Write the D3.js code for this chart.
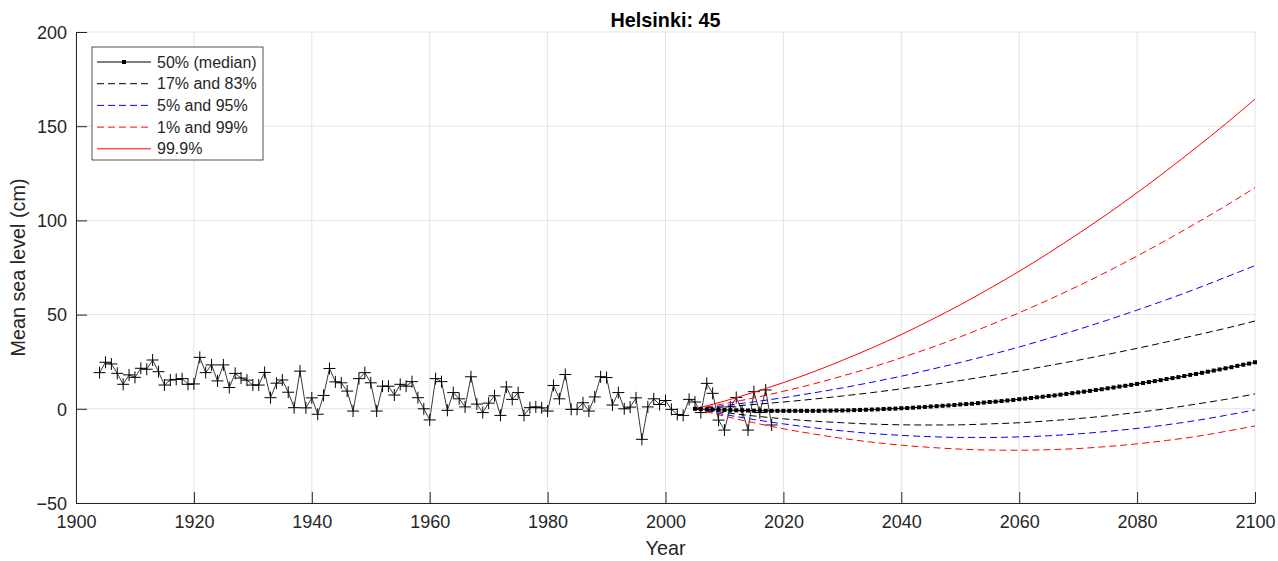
<!DOCTYPE html>
<html>
<head>
<meta charset="utf-8">
<script src="https://cdn.jsdelivr.net/npm/d3@7/dist/d3.min.js"></script>
<style>
  body { margin: 0; background: white; }
  svg { font-family: "Liberation Sans", Arial, Helvetica, sans-serif; }
  .grid line { stroke: #e3e3e3; stroke-width: 1; }
</style>
</head>
<body>
<script>
// observed annual means (cm), 1904 - 2018
var obsStart = 1904
var observed = [19.2, 24.7, 23.8, 18.8, 13, 18, 16.7, 21.5, 21, 25.9,
    19.7, 12.6, 15.3, 15.6, 16, 13, 13.2, 27.3, 19.2, 23.3,
    14.8, 23.3, 11.3, 18.8, 16.3, 15.2, 12.6, 12.6, 19.3, 5.9,
    13.6, 15.3, 8.8, 0.6, 20.0, 0.5, 5.8, -2.9, 7.1, 21.4,
    14.3, 13.8, 9.4, -1.2, 16, 19.2, 13.8, -1.2, 12, 12,
    7.3, 13, 12, 14.4, 5.9, 0, -5.9, 16, 14.4, -0.8,
    8.6, 5.3, 1.0, 17, 2.5, -2, 3, 6.9, -3.5, 11.6,
    5, 8.6, -3.5, 0.6, 1, 0.5, -1.2, 12.4, 5.3, 18.2,
    -0.3, -0.3, 3.2, -1.2, 6.3, 17, 16.6, 2, 8.6, 0,
    0.9, 5.8, -16.2, 1, 5.3, 2.3, 4.4, -0.3, -3, -3.5,
    5, 3.6, -2, 13.5, 8.2, -6, -11.3, 1, 6, -1,
    -11.3, 9.1, -2, 10, -8.6]

// projections every 5 years, 2005 - 2100
var projYears = [2005, 2010, 2015, 2020, 2025, 2030, 2035, 2040, 2045, 2050,
    2055, 2060, 2065, 2070, 2075, 2080, 2085, 2090, 2095, 2100]
var p999 = [0, 4.1, 8.8, 13.9, 19.5, 25.7, 32.3, 39.4, 47.1, 55.2,
    63.9, 73.0, 82.7, 92.9, 103.5, 114.7, 126.4, 138.6, 151.2, 164.4]
var p99 = [0, 2.7, 5.8, 9.3, 13.1, 17.4, 22.0, 27.1, 32.4, 38.2,
    44.4, 51.0, 57.9, 65.2, 72.9, 81.1, 89.6, 98.5, 107.7, 117.4]
var p95 = [0, 1.7, 3.7, 5.9, 8.4, 11.1, 14.1, 17.3, 20.9, 24.6,
    28.6, 32.8, 37.4, 42.1, 47.1, 52.4, 57.9, 63.7, 69.8, 76.0]
var p83 = [0, 1.0, 2.3, 3.6, 5.1, 6.8, 8.6, 10.6, 12.7, 15.0,
    17.5, 20.1, 22.9, 25.8, 28.9, 32.1, 35.5, 39.1, 42.7, 46.6]
var p17 = [0, -2.0, -3.8, -5.3, -6.5, -7.4, -8.1, -8.5, -8.6, -8.5,
    -8.0, -7.4, -6.4, -5.2, -3.7, -1.9, 0.1, 2.5, 5.0, 7.9]
var p5 = [0, -3.0, -5.7, -8.0, -10.0, -11.7, -13.1, -14.1, -14.8, -15.2,
    -15.2, -14.9, -14.3, -13.3, -12.0, -10.4, -8.5, -6.2, -3.5, -0.6]
var p1 = [0, -3.9, -7.4, -10.6, -13.3, -15.7, -17.7, -19.3, -20.5, -21.4,
    -21.9, -22.0, -21.7, -21.1, -20.0, -18.6, -16.8, -14.7, -12.0, -9.1]

// median, yearly 2005 - 2100
var medianStart = 2005
var median = [0, -0.1, -0.3, -0.4, -0.5, -0.6, -0.7, -0.8, -0.8, -0.9,
    -1.0, -1.0, -1.1, -1.1, -1.1, -1.1, -1.1, -1.1, -1.1, -1.1,
    -1.1, -1.1, -1.0, -1.0, -0.9, -0.9, -0.8, -0.7, -0.6, -0.5,
    -0.4, -0.3, -0.1, 0.0, 0.1, 0.3, 0.4, 0.6, 0.8, 1.0,
    1.2, 1.4, 1.6, 1.8, 2.0, 2.3, 2.5, 2.7, 3.0, 3.3,
    3.6, 3.8, 4.1, 4.4, 4.7, 5.1, 5.4, 5.7, 6.1, 6.4,
    6.8, 7.1, 7.5, 7.9, 8.3, 8.7, 9.1, 9.5, 10.0, 10.4,
    10.9, 11.3, 11.8, 12.2, 12.7, 13.2, 13.7, 14.2, 14.7, 15.2,
    15.8, 16.3, 16.8, 17.4, 18.0, 18.5, 19.1, 19.7, 20.3, 20.9,
    21.5, 22.1, 22.8, 23.4, 24.0, 24.7]

var xTicks = [1900, 1920, 1940, 1960, 1980, 2000, 2020, 2040, 2060, 2080, 2100]
var yTicks = [-50, 0, 50, 100, 150, 200]
var legendLabels = ["50% (median)", "17% and 83%", "5% and 95%", "1% and 99%", "99.9%"]

var axisColor = "#262626"

var margin = { left: 76, top: 32, right: 23, bottom: 58 }
var width = 1278
var height = 561
var plotW = width - margin.left - margin.right
var plotH = height - margin.top - margin.bottom

var svg = d3.select("body")
    .append("svg")
    .attr("width", width)
    .attr("height", height)

var g = svg.append("g")
    .attr("transform", "translate(" + margin.left + "," + margin.top + ")")

var x = d3.scaleLinear().domain([1900, 2100]).range([0, plotW])
var y = d3.scaleLinear().domain([-50, 200]).range([plotH, 0])

// grid
var grid = g.append("g").attr("class", "grid")
grid.selectAll(".gx").data(xTicks).enter().append("line")
    .attr("x1", function (d) { return x(d) }).attr("x2", function (d) { return x(d) })
    .attr("y1", 0).attr("y2", plotH)
grid.selectAll(".gy").data(yTicks).enter().append("line")
    .attr("y1", function (d) { return y(d) }).attr("y2", function (d) { return y(d) })
    .attr("x1", 0).attr("x2", plotW)

var clip = g.append("defs").append("clipPath").attr("id", "plotclip")
clip.append("rect").attr("x", -2).attr("y", -2).attr("width", plotW + 4).attr("height", plotH + 4)

var plot = g.append("g").attr("clip-path", "url(#plotclip)")

var projLine = d3.line()
    .x(function (d) { return x(d[0]) })
    .y(function (d) { return y(d[1]) })
    .curve(d3.curveMonotoneX)

var bands = [
    { values: p17, color: "#000", dash: "7,4" },
    { values: p83, color: "#000", dash: "7,4" },
    { values: p5, color: "#0000ff", dash: "7,4" },
    { values: p95, color: "#0000ff", dash: "7,4" },
    { values: p1, color: "#ff0000", dash: "7,4" },
    { values: p99, color: "#ff0000", dash: "7,4" },
    { values: p999, color: "#ff0000", dash: null }
]

// observed series
var obsData = observed.map(function (v, i) { return [obsStart + i, v] })

plot.append("path")
    .datum(obsData)
    .attr("fill", "none")
    .attr("stroke", "#3a3a3a")
    .attr("stroke-width", 1)
    .attr("d", d3.line().x(function (d) { return x(d[0]) }).y(function (d) { return y(d[1]) }))

plot.selectAll(".obs")
    .data(obsData)
    .enter()
    .append("path")
    .attr("class", "obs")
    .attr("transform", function (d) { return "translate(" + x(d[0]) + "," + y(d[1]) + ")" })
    .attr("d", "M-6,0H6M0,-6V6")
    .attr("stroke", "#000")
    .attr("stroke-width", 1)

bands.forEach(function (b) {
    plot.append("path")
        .datum(projYears.map(function (yr, i) { return [yr, b.values[i]] }))
        .attr("fill", "none")
        .attr("stroke", b.color)
        .attr("stroke-width", 1)
        .attr("stroke-dasharray", b.dash)
        .attr("d", projLine)
})

var medData = median.map(function (v, i) { return [medianStart + i, v] })

plot.append("path")
    .datum(medData)
    .attr("fill", "none")
    .attr("stroke", "#000")
    .attr("stroke-width", 1)
    .attr("d", projLine)

plot.selectAll(".med")
    .data(medData)
    .enter()
    .append("rect")
    .attr("class", "med")
    .attr("x", function (d) { return x(d[0]) - 2 })
    .attr("y", function (d) { return y(d[1]) - 2 })
    .attr("width", 4)
    .attr("height", 4)
    .attr("fill", "#000")

// axes
var xAxis = g.append("g")
    .attr("transform", "translate(0," + plotH + ")")
    .call(d3.axisBottom(x).tickValues(xTicks).tickFormat(d3.format("d")).tickSizeInner(-11).tickSizeOuter(0).tickPadding(13))
var yAxis = g.append("g")
    .call(d3.axisLeft(y).tickValues(yTicks).tickSizeInner(-11).tickSizeOuter(0).tickPadding(9))

;[xAxis, yAxis].forEach(function (a) {
    a.select(".domain").attr("stroke", axisColor)
    a.selectAll(".tick line").attr("stroke", axisColor)
    a.selectAll("text")
        .attr("fill", axisColor)
        .style("font-size", "18px")
        .style("font-family", "'Liberation Sans', Arial, sans-serif")
})
yAxis.selectAll("text").attr("dy", "0.35em")
xAxis.selectAll("text").attr("dy", "0.71em").attr("y", 12)

// labels
svg.append("text")
    .attr("x", margin.left + plotW / 2)
    .attr("y", 27)
    .attr("text-anchor", "middle")
    .attr("font-weight", "bold")
    .attr("font-size", "19.8px")
    .attr("fill", "#000")
    .text("Helsinki: 45")

svg.append("text")
    .attr("x", margin.left + plotW / 2)
    .attr("y", 555)
    .attr("text-anchor", "middle")
    .attr("font-size", "19.8px")
    .attr("fill", axisColor)
    .text("Year")

svg.append("text")
    .attr("transform", "translate(25," + (margin.top + plotH / 2) + ") rotate(-90)")
    .attr("text-anchor", "middle")
    .attr("font-size", "19.8px")
    .attr("fill", axisColor)
    .text("Mean sea level (cm)")

// legend
var legendItems = [
    { label: legendLabels[0], color: "#000", dash: null, marker: true },
    { label: legendLabels[1], color: "#000", dash: "7,4" },
    { label: legendLabels[2], color: "#0000ff", dash: "7,4" },
    { label: legendLabels[3], color: "#ff0000", dash: "7,4" },
    { label: legendLabels[4], color: "#ff0000", dash: null }
]

var legend = svg.append("g").attr("transform", "translate(92,47)")
legend.append("rect")
    .attr("width", 171)
    .attr("height", 113)
    .attr("fill", "white")
    .attr("stroke", axisColor)
    .attr("stroke-width", 0.8)

var li = legend.selectAll(".li")
    .data(legendItems)
    .enter()
    .append("g")
    .attr("transform", function (d, i) { return "translate(0," + (15 + i * 21.7) + ")" })

li.append("line")
    .attr("x1", 5).attr("x2", 59)
    .attr("stroke", function (d) { return d.color })
    .attr("stroke-width", 1)
    .attr("stroke-dasharray", function (d) { return d.dash })

li.filter(function (d) { return d.marker })
    .append("rect")
    .attr("x", 30).attr("y", -2).attr("width", 4).attr("height", 4)
    .attr("fill", "#000")

li.append("text")
    .attr("x", 65)
    .attr("dy", "0.35em")
    .attr("font-size", "16px")
    .attr("fill", axisColor)
    .text(function (d) { return d.label })
</script>
</body>
</html>
